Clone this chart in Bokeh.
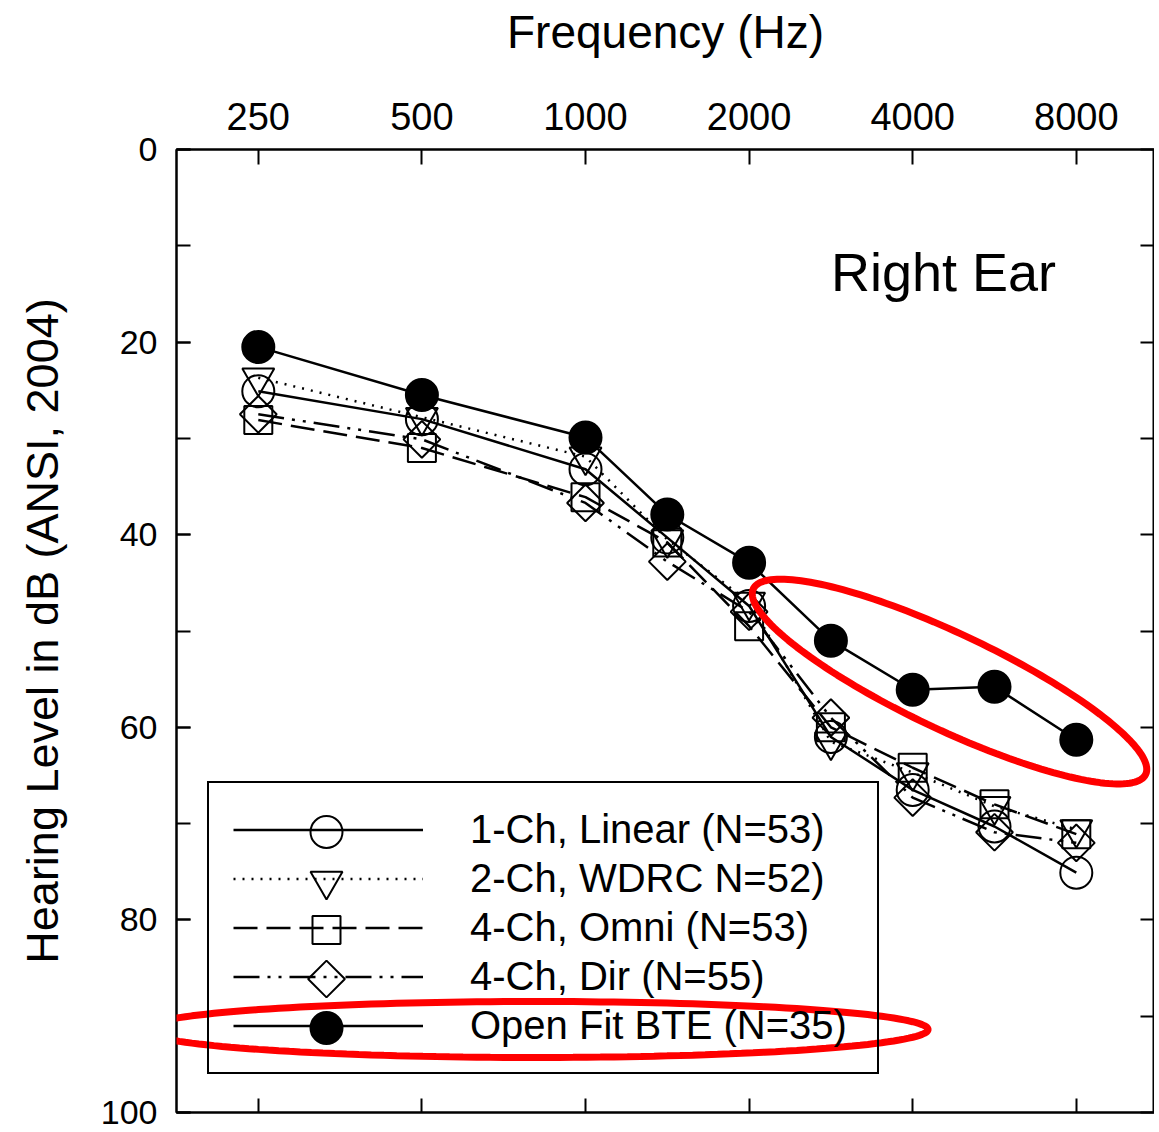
import numpy as np
from bokeh.plotting import figure
from bokeh.models import (Range1d, LinearAxis, FixedTicker, SingleIntervalTicker,
                          Legend, LegendItem, Label, PolyAnnotation)
from bokeh.embed import file_html
from bokeh.resources import INLINE

# ---------------- data ----------------
freq_hz = [250, 500, 1000, 1500, 2000, 3000, 4000, 6000, 8000]
tick_hz = [250, 500, 1000, 2000, 4000, 8000]
tick_labels = ["250", "500", "1000", "2000", "4000", "8000"]

linear_1ch = [25.1, 28.0, 33.2, 40.3, 47.4, 61.0, 66.5, 70.3, 75.1]
wdrc_2ch = [23.7, 27.8, 31.9, 40.5, 47.0, 61.5, 64.7, 68.2, 70.6]
omni_4ch = [28.1, 31.0, 36.1, 40.8, 49.5, 60.0, 64.2, 68.0, 71.1]
dir_4ch = [27.5, 30.1, 36.7, 42.8, 48.0, 59.0, 67.3, 70.9, 72.0]
open_fit = [20.5, 25.5, 29.9, 37.9, 42.9, 51.0, 56.1, 55.8, 61.3]

series_names = ["1-Ch, Linear (N=53)", "2-Ch, WDRC N=52)", "4-Ch, Omni (N=53)",
                "4-Ch, Dir (N=55)", "Open Fit BTE (N=35)"]
series_values = [linear_1ch, wdrc_2ch, omni_4ch, dir_4ch, open_fit]

FONT = "Liberation Sans"


def half_octave_pos(f):
    return np.round(2 * np.log2(np.asarray(f, dtype=float) / 250.0))


xpos = half_octave_pos(freq_hz)
tick_pos = [int(v) for v in half_octave_pos(tick_hz)]
right_ticks = list(range(0, 101, 10))

PXX = 81.8          # px per half octave
FW, FH = 978, 963
X0 = -1.0
X1 = X0 + FW / PXX
PXY = FH / 100.0

p = figure(frame_width=FW, frame_height=FH,
           x_range=Range1d(X0, X1), y_range=Range1d(100, 0),
           x_axis_location="above", output_backend="svg", toolbar_location=None,
           min_border_left=176, min_border_top=149, min_border_right=0,
           min_border_bottom=18, background_fill_color="white",
           border_fill_color="white")
p.xgrid.visible = False
p.ygrid.visible = False
p.outline_line_color = "black"
p.outline_line_width = 2

# top axis
xa = p.xaxis[0]
xa.ticker = FixedTicker(ticks=tick_pos, minor_ticks=[])
xa.major_label_overrides = {t: lab for t, lab in zip(tick_pos, tick_labels)}
xa.major_tick_in = 15
xa.major_tick_out = 0
xa.major_tick_line_width = 2
xa.axis_line_width = 2
xa.major_label_text_font = FONT
xa.major_label_text_font_size = "38px"
xa.major_label_text_color = "black"
xa.major_label_standoff = 20
xa.axis_label = "Frequency (Hz)"
xa.axis_label_text_font = FONT
xa.axis_label_text_font_size = "46px"
xa.axis_label_text_font_style = "normal"
xa.axis_label_text_color = "black"
xa.axis_label_standoff = 42

# left axis
ya = p.yaxis[0]
ya.ticker = SingleIntervalTicker(interval=20, num_minor_ticks=2)
ya.major_tick_in = 14
ya.major_tick_out = 0
ya.minor_tick_in = 14
ya.minor_tick_out = 0
ya.major_tick_line_width = 2
ya.minor_tick_line_width = 2
ya.axis_line_width = 2
ya.major_label_text_font = FONT
ya.major_label_text_font_size = "34px"
ya.major_label_text_color = "black"
ya.major_label_standoff = 19
ya.axis_label = "Hearing Level in dB (ANSI, 2004)"
ya.axis_label_text_font = FONT
ya.axis_label_text_font_size = "45px"
ya.axis_label_text_font_style = "normal"
ya.axis_label_text_color = "black"
ya.axis_label_standoff = 30

# bottom axis (ticks only)
bax = LinearAxis(ticker=FixedTicker(ticks=tick_pos, minor_ticks=[]),
                 major_label_overrides={t: "" for t in tick_pos},
                 major_label_text_color=None,
                 major_tick_in=14, major_tick_out=0, major_tick_line_width=2,
                 axis_line_width=2, major_label_standoff=0)
p.add_layout(bax, "below")

# right axis (ticks only)
rax = LinearAxis(ticker=FixedTicker(ticks=right_ticks, minor_ticks=[]),
                 major_label_overrides={t: "" for t in right_ticks},
                 major_label_text_color=None,
                 major_tick_in=14, major_tick_out=0, major_tick_line_width=2,
                 axis_line_width=2, major_label_standoff=0)
p.add_layout(rax, "right")

# series
styles = [
    dict(dash="solid", marker="circle", size=32, angle=0.0, fill=None),
    dict(dash="2 7", marker="inverted_triangle", size=32, angle=0.0, fill=None),
    dict(dash="24 9", marker="square", size=28, angle=0.0, fill=None),
    dict(dash="26 8 3 8 3 8", marker="square", size=26, angle=np.pi / 4, fill=None),
    dict(dash="solid", marker="circle", size=32, angle=0.0, fill="black"),
]

# legend layout (screen px)
LG_LEFT, LG_BOTTOM, LG_PAD = 31, 38, 24
LG_GW, LG_GH, LG_SP = 190, 45, 4
n_items = len(series_names)
lg_height = 2 * LG_PAD + n_items * LG_GH + (n_items - 1) * LG_SP
lg_top_px = FH - LG_BOTTOM - lg_height     # from frame top
lg_marker_x = X0 + (LG_LEFT + LG_PAD + LG_GW / 2) / PXX

items = []
for i, (name, vals, st) in enumerate(zip(series_names, series_values, styles)):
    lr = p.line(xpos, vals, line_color="black", line_width=2.5, line_dash=st["dash"])
    fill_kw = dict(fill_color=st["fill"] if st["fill"] else "white",
                   fill_alpha=1.0 if st["fill"] else 0.0)
    p.scatter(xpos, vals, marker=st["marker"], size=st["size"], angle=st["angle"],
              line_color="black", line_width=2, **fill_kw)
    items.append(LegendItem(label=name, renderers=[lr]))
    # legend swatch marker, centred on the legend row
    row_y = (lg_top_px + LG_PAD + LG_GH / 2 + i * (LG_GH + LG_SP)) / PXY
    p.scatter([lg_marker_x], [row_y], marker=st["marker"], size=st["size"],
              angle=st["angle"], line_color="black", line_width=2, **fill_kw)

legend = Legend(items=items, location=(LG_LEFT, LG_BOTTOM), margin=0, padding=LG_PAD,
                glyph_width=LG_GW, glyph_height=LG_GH, label_height=LG_GH,
                spacing=LG_SP, label_standoff=47, label_width=383,
                label_text_font=FONT, label_text_font_size="40px",
                label_text_color="black",
                border_line_color="black", border_line_width=2, border_line_alpha=1.0,
                background_fill_alpha=0.0)
p.add_layout(legend)

p.add_layout(Label(x=7.0, y=12.7, text="Right Ear", text_font=FONT,
                   text_font_size="54px", text_color="black",
                   text_baseline="middle", text_align="left"))


# red highlight ellipses
def ellipse(cx, cy, a_px, b_px, ang_deg, n=180):
    t = np.linspace(0, 2 * np.pi, n)
    th = np.deg2rad(ang_deg)
    dx = a_px * np.cos(t) * np.cos(th) - b_px * np.sin(t) * np.sin(th)
    dy = a_px * np.cos(t) * np.sin(th) + b_px * np.sin(t) * np.cos(th)
    return list(cx + dx / PXX), list(cy + dy / PXY)


hi_x = float(np.mean(xpos[5:]))
hi_y = float(np.mean(open_fit[5:]))
ex, ey = ellipse(hi_x - 0.05, hi_y - 0.8, 217, 48, 25.3)
p.add_layout(PolyAnnotation(xs=ex, ys=ey, fill_alpha=0, line_color="red",
                            line_alpha=1.0, line_width=7, level="overlay"))
lx, ly = ellipse(3.384, 91.38, 393, 28, 0)
p.add_layout(PolyAnnotation(xs=lx, ys=ly, fill_alpha=0, line_color="red",
                            line_alpha=1.0, line_width=7, level="overlay"))

open("out.html", "w").write(file_html(p, INLINE))
